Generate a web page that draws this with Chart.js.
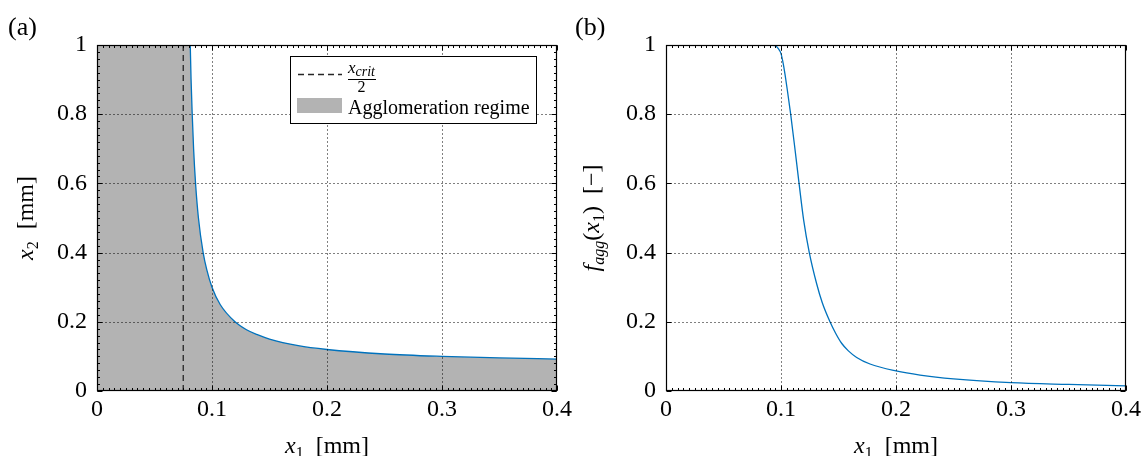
<!DOCTYPE html>
<html>
<head>
<meta charset="utf-8">
<script src="https://cdn.jsdelivr.net/npm/chart.js@4.4.0/dist/chart.umd.min.js"></script>
<style>
  html, body { margin: 0; padding: 0; background: #fff; }
  #wrap { position: relative; width: 1143px; height: 456px; overflow: hidden; }
  .panel { position: absolute; top: 0; height: 456px; }
  #panel-a { left: 0; width: 600px; }
  #panel-b { left: 570px; width: 573px; }
</style>
</head>
<body>
<div id="wrap">
  <div class="panel" id="panel-a"><canvas id="chart-a"></canvas></div>
  <div class="panel" id="panel-b"><canvas id="chart-b"></canvas></div>
</div>
<script>
// axes
const xTicks = [0, 0.1, 0.2, 0.3, 0.4];
const yTicks = [0, 0.2, 0.4, 0.6, 0.8, 1];
const xCritHalf = 0.075;

// (a) boundary of the agglomeration regime: x2 [mm] over x1 [mm]
const boundaryX1 = [0.0811, 0.0818, 0.0828, 0.0840, 0.0857, 0.0882, 0.0923, 0.0955, 0.1000, 0.1071,
                    0.1200, 0.1300, 0.1400, 0.1500, 0.1750, 0.2000, 0.2500, 0.3000, 0.3500, 0.4000];
const boundaryX2 = [1.000, 0.900, 0.800, 0.700, 0.600, 0.500, 0.400, 0.350, 0.300, 0.250,
                    0.200, 0.177, 0.162, 0.150, 0.131, 0.120, 0.107, 0.100, 0.0955, 0.0923];
// the regime is filled from the top-left corner
const regimeCornerX1 = 0;
const regimeCornerX2 = 1;

// (b) f_agg(x1) [-] over x1 [mm]
const aggX1 = [0, 0.090, 0.095, 0.0975, 0.100, 0.102, 0.1035, 0.1055, 0.1084, 0.1119, 0.1157, 0.1197,
               0.1246, 0.1310, 0.1359, 0.1426, 0.1475, 0.1527, 0.1586, 0.1658, 0.1774, 0.2000, 0.2209,
               0.2500, 0.3000, 0.3500, 0.4000];
const aggF = [1, 1, 0.998, 0.990, 0.975, 0.945, 0.915, 0.870, 0.800, 0.706, 0.600, 0.494,
              0.400, 0.310, 0.255, 0.200, 0.167, 0.138, 0.116, 0.097, 0.078, 0.058, 0.046,
              0.035, 0.024, 0.019, 0.015];

const serif = '"Liberation Serif", "DejaVu Serif", serif';
const blue = '#0072bd';
const regimeGray = '#b3b3b3';

const toPoints = (xs, ys) => xs.map((v, i) => ({ x: v, y: ys[i] }));

function line(ctx, x1, y1, x2, y2) {
    ctx.beginPath();
    ctx.moveTo(x1, y1);
    ctx.lineTo(x2, y2);
    ctx.stroke();
}

function range(min, max, step) {
    const out = [];
    const n = Math.round((max - min) / step);
    for (let i = 0; i <= n; i++) out.push(min + i * step);
    return out;
}

// runs: [{t, size, italic, dy}] drawn one after another on a baseline
function drawRuns(ctx, runs, x, y, align) {
    let width = 0;
    runs.forEach(r => {
        ctx.font = `${r.italic ? 'italic ' : ''}${r.size}px ${serif}`;
        r.w = ctx.measureText(r.t).width;
        width += r.w;
    });
    let cx = align === 'center' ? x - width / 2 : x;
    ctx.fillStyle = '#000';
    ctx.textBaseline = 'alphabetic';
    ctx.textAlign = 'left';
    runs.forEach(r => {
        ctx.font = `${r.italic ? 'italic ' : ''}${r.size}px ${serif}`;
        ctx.fillText(r.t, cx, y + (r.dy || 0));
        cx += r.w;
    });
    return width;
}

// dotted grid, inward ticks and box, drawn over the data like a MATLAB axes with Layer=top
const frameGrid = {
    id: 'frameGrid',
    afterDatasetsDraw(chart, args, opts) {
        const { ctx, chartArea: a, scales: { x, y } } = chart;
        const L = Math.round(a.left) + 0.5, R = Math.round(a.right) - 0.5;
        const T = Math.round(a.top) + 0.5, B = Math.round(a.bottom) - 0.5;
        ctx.save();
        ctx.strokeStyle = '#000';
        ctx.lineWidth = 1;
        ctx.setLineDash([1, 3]);
        xTicks.slice(1, -1).forEach(v => {
            const px = Math.round(x.getPixelForValue(v)) + 0.5;
            line(ctx, px, T, px, B);
        });
        yTicks.slice(1, -1).forEach(v => {
            const py = Math.round(y.getPixelForValue(v)) + 0.5;
            line(ctx, L, py, R, py);
        });
        ctx.setLineDash([]);

        if (opts.minorX) {
            range(x.min, x.max, opts.minorX).forEach(v => {
                const px = Math.round(x.getPixelForValue(v)) + 0.5;
                line(ctx, px, B, px, B - 2.5);
                line(ctx, px, T, px, T + 2.5);
            });
        }
        if (opts.minorY) {
            range(y.min, y.max, opts.minorY).forEach(v => {
                const py = Math.round(y.getPixelForValue(v)) + 0.5;
                line(ctx, L, py, L + 2.5, py);
                line(ctx, R, py, R - 2.5, py);
            });
        }
        xTicks.forEach(v => {
            const px = Math.round(x.getPixelForValue(v)) + 0.5;
            line(ctx, px, B, px, B - 5);
            line(ctx, px, T, px, T + 5);
        });
        yTicks.forEach(v => {
            const py = Math.round(y.getPixelForValue(v)) + 0.5;
            line(ctx, L, py, L + 5, py);
            line(ctx, R, py, R - 5, py);
        });

        ctx.lineWidth = 1.2;
        ctx.strokeRect(L, T, R - L, B - T);
        ctx.restore();
    }
};

// panel letter, axis titles with sub-scripts, and the legend of panel (a)
const annotations = {
    id: 'annotations',
    afterDraw(chart, args, opts) {
        const { ctx, chartArea: a } = chart;
        ctx.save();
        drawRuns(ctx, [{ t: opts.letter, size: 26 }], opts.letterX, 35, 'left');

        drawRuns(ctx, opts.xTitle, (a.left + a.right) / 2, 453, 'center');

        ctx.save();
        ctx.translate(opts.yTitleX, (a.top + a.bottom) / 2);
        ctx.rotate(-Math.PI / 2);
        drawRuns(ctx, opts.yTitle, 0, 0, 'center');
        ctx.restore();

        if (opts.legend) {
            const bx = a.right - 267, by = a.top + 11, bw = 246, bh = 67;
            ctx.fillStyle = '#fff';
            ctx.fillRect(bx, by, bw, bh);
            ctx.strokeStyle = '#000';
            ctx.lineWidth = 1;
            ctx.strokeRect(bx + 0.5, by + 0.5, bw, bh);

            // dashed sample and x_crit / 2
            ctx.strokeStyle = '#262626';
            ctx.lineWidth = 1.3;
            ctx.setLineDash([6, 4]);
            line(ctx, bx + 8, by + 18.5, bx + 52, by + 18.5);
            ctx.setLineDash([]);
            const fw = drawRuns(ctx, [
                { t: 'x', size: 17, italic: true },
                { t: 'crit', size: 14, italic: true, dy: 3 }
            ], bx + 58, by + 17, 'left');
            ctx.strokeStyle = '#000';
            ctx.lineWidth = 1;
            line(ctx, bx + 58, by + 23.5, bx + 58 + fw + 1, by + 23.5);
            drawRuns(ctx, [{ t: '2', size: 16 }], bx + 58 + fw / 2, by + 36, 'center');

            // gray patch and label
            ctx.fillStyle = regimeGray;
            ctx.fillRect(bx + 7, by + 42, 45, 15);
            drawRuns(ctx, [{ t: 'Agglomeration regime', size: 20 }], bx + 58, by + 58, 'left');
        }
        ctx.restore();
    }
};

function makeChart(canvasId, datasets, o) {
    const tickFont = { family: serif, size: 24 };
    return new Chart(document.getElementById(canvasId), {
        type: 'scatter',
        data: { datasets },
        plugins: [frameGrid, annotations],
        options: {
            responsive: true,
            maintainAspectRatio: false,
            animation: false,
            events: [],
            layout: { padding: { left: 0, right: o.padRight, top: 45, bottom: 0 } },
            plugins: {
                legend: { display: false },
                tooltip: { enabled: false },
                frameGrid: { minorX: o.minorX, minorY: o.minorY },
                annotations: o.annotations
            },
            scales: {
                x: {
                    type: 'linear',
                    min: 0,
                    max: 0.4,
                    afterBuildTicks: s => { s.ticks = xTicks.map(v => ({ value: v })); },
                    ticks: { font: tickFont, color: '#000', padding: 4, maxRotation: 0, autoSkip: false,
                             callback: v => String(v) },
                    grid: { display: false, drawTicks: false },
                    border: { display: false },
                    afterFit: s => { s.height = 65; s.paddingLeft = 0; s.paddingRight = 0; }
                },
                y: {
                    type: 'linear',
                    min: 0,
                    max: 1,
                    afterBuildTicks: s => { s.ticks = yTicks.map(v => ({ value: v })); },
                    ticks: { font: tickFont, color: '#000', padding: 10, autoSkip: false,
                             callback: v => String(v) },
                    grid: { display: false, drawTicks: false },
                    border: { display: false },
                    afterFit: s => { s.width = o.axisLeft; s.paddingTop = 0; s.paddingBottom = 0; }
                }
            }
        }
    });
}

const boundary = toPoints(boundaryX1, boundaryX2);

makeChart('chart-a', [
    {
        label: 'x2 boundary',
        data: boundary,
        showLine: true,
        borderColor: blue,
        borderWidth: 1.3,
        pointRadius: 0,
        cubicInterpolationMode: 'monotone'
    },
    {
        label: 'x_crit / 2',
        data: toPoints([xCritHalf, xCritHalf], [0, 1]),
        showLine: true,
        borderColor: '#262626',
        borderWidth: 1.3,
        borderDash: [6, 4],
        pointRadius: 0
    },
    {
        label: 'Agglomeration regime',
        data: [{ x: regimeCornerX1, y: regimeCornerX2 }].concat(boundary),
        showLine: true,
        borderWidth: 0,
        borderColor: 'rgba(0,0,0,0)',
        backgroundColor: regimeGray,
        fill: 'origin',
        pointRadius: 0,
        cubicInterpolationMode: 'monotone'
    }
], {
    padRight: 43,
    axisLeft: 97,
    minorX: 0.005,
    minorY: 0.02,
    annotations: {
        letter: '(a)',
        letterX: 8,
        yTitleX: 33,
        xTitle: [
            { t: 'x', size: 24, italic: true },
            { t: '1', size: 16, dy: 5 },
            { t: '  [mm]', size: 24 }
        ],
        yTitle: [
            { t: 'x', size: 24, italic: true },
            { t: '2', size: 16, dy: 5 },
            { t: '  [mm]', size: 24 }
        ],
        legend: true
    }
});

makeChart('chart-b', [
    {
        label: 'f_agg',
        data: toPoints(aggX1, aggF),
        showLine: true,
        borderColor: blue,
        borderWidth: 1.3,
        pointRadius: 0,
        cubicInterpolationMode: 'monotone'
    }
], {
    padRight: 17,
    axisLeft: 96,
    minorX: 0.005,
    minorY: null,
    annotations: {
        letter: '(b)',
        letterX: 5,
        yTitleX: 29,
        xTitle: [
            { t: 'x', size: 24, italic: true },
            { t: '1', size: 16, dy: 5 },
            { t: '  [mm]', size: 24 }
        ],
        yTitle: [
            { t: 'f', size: 24, italic: true },
            { t: 'agg', size: 16, italic: true, dy: 5 },
            { t: '(', size: 24 },
            { t: 'x', size: 24, italic: true },
            { t: '1', size: 16, dy: 5 },
            { t: ')  [\u2212]', size: 24 }
        ],
        legend: false
    }
});
</script>
</body>
</html>
